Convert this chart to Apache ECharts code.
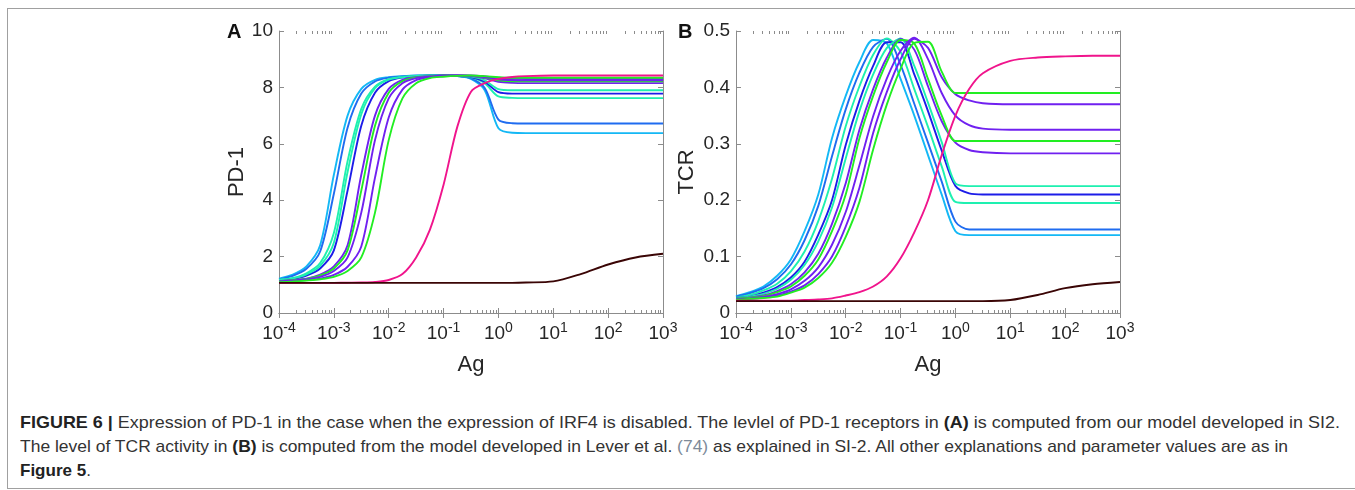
<!DOCTYPE html>
<html>
<head>
<meta charset="utf-8">
<script src="https://cdn.jsdelivr.net/npm/echarts@6/dist/echarts.min.js"></script>
<style>
html, body { margin: 0; padding: 0; background: #fff; }
body { width: 1355px; height: 490px; position: relative; overflow: hidden; font-family: "Liberation Sans", Arial, sans-serif; }
#frame { position: absolute; left: 7px; top: 8px; width: 1400px; height: 479px; border: 1px solid #a0a0a0; border-right: none; }
#chart { position: absolute; left: 0; top: 0; width: 1355px; height: 400px; }
.cap { position: absolute; left: 20px; font-size: 17px; line-height: 24px; color: #333; white-space: nowrap; transform-origin: 0 0; }
.cap b { color: #222; }
.ref { color: #7d8a99; }
</style>
</head>
<body>
<div id="frame"></div>
<div id="chart"></div>
<div class="cap" id="cap1" data-w="1320" style="top:411px"><b>FIGURE 6 |</b> Expression of PD-1 in the case when the expression of IRF4 is disabled. The levlel of PD-1 receptors in <b>(A)</b> is computed from our model developed in SI2.</div>
<div class="cap" id="cap2" data-w="1268" style="top:435px">The level of TCR activity in <b>(B)</b> is computed from the model developed in Lever et al. <span class="ref">(74)</span> as explained in SI-2. All other explanations and parameter values are as in</div>
<div class="cap" id="cap3" style="top:459px"><b>Figure 5</b>.</div>

<script>
// Ag sample points (log10 exponents)
const agExp = [-4, -3.75, -3.5, -3.25, -3, -2.75, -2.5, -2.25, -2, -1.75, -1.5, -1.25, -1, -0.75, -0.5, -0.25, 0, 0.25, 0.5, 1, 1.5, 2, 2.5, 3]

// panel A: PD-1
const pdLightBlue = [1.22, 1.36, 1.65, 2.4, 4.9, 7.0, 7.95, 8.27, 8.36, 8.40, 8.42, 8.42, 8.42, 8.40, 8.30, 7.90, 6.55, 6.39, 6.38, 6.38, 6.38, 6.38, 6.38, 6.38]
const pdBlue = [1.20, 1.32, 1.57, 2.18, 4.23, 6.57, 7.78, 8.21, 8.345, 8.39, 8.415, 8.42, 8.42, 8.40, 8.32, 7.98, 6.86, 6.73, 6.72, 6.72, 6.72, 6.72, 6.72, 6.72]
const pdAqua1 = [1.18, 1.24, 1.41, 1.77, 2.84, 5.38, 7.24, 8.03, 8.29, 8.37, 8.41, 8.42, 8.42, 8.41, 8.36, 8.15, 7.68, 7.63, 7.62, 7.62, 7.62, 7.62, 7.62, 7.62]
const pdDarkBlue = [1.16, 1.21, 1.33, 1.58, 2.22, 4.34, 6.64, 7.81, 8.22, 8.35, 8.39, 8.42, 8.42, 8.41, 8.37, 8.2, 7.83, 7.78, 7.78, 7.78, 7.78, 7.78, 7.78, 7.78]
const pdAqua2 = [1.17, 1.225, 1.37, 1.67, 2.49, 5.0, 7.05, 7.97, 8.275, 8.36, 8.41, 8.42, 8.42, 8.41, 8.38, 8.25, 7.94, 7.9, 7.9, 7.9, 7.9, 7.9, 7.9, 7.9]
const pdPurple1 = [1.13, 1.17, 1.22, 1.36, 1.65, 2.4, 4.9, 7.0, 7.95, 8.27, 8.36, 8.40, 8.42, 8.42, 8.40, 8.32, 8.2, 8.16, 8.15, 8.15, 8.15, 8.15, 8.15, 8.15]
const pdGreen1 = [1.125, 1.16, 1.21, 1.33, 1.58, 2.22, 4.34, 6.64, 7.81, 8.22, 8.35, 8.39, 8.42, 8.42, 8.41, 8.35, 8.25, 8.22, 8.22, 8.22, 8.22, 8.22, 8.22, 8.22]
const pdPurple2 = [1.115, 1.15, 1.195, 1.28, 1.49, 1.97, 3.56, 6.13, 7.61, 8.15, 8.33, 8.38, 8.42, 8.42, 8.41, 8.37, 8.29, 8.26, 8.25, 8.25, 8.25, 8.25, 8.25, 8.25]
const pdPurple3 = [1.10, 1.13, 1.17, 1.22, 1.35, 1.64, 2.36, 4.8, 6.93, 7.92, 8.26, 8.36, 8.40, 8.42, 8.42, 8.39, 8.34, 8.31, 8.30, 8.30, 8.30, 8.30, 8.30, 8.30]
const pdGreen2 = [1.09, 1.115, 1.15, 1.195, 1.28, 1.49, 1.97, 3.56, 6.13, 7.61, 8.15, 8.33, 8.38, 8.41, 8.42, 8.40, 8.36, 8.34, 8.34, 8.34, 8.34, 8.34, 8.34, 8.34]
const pdMagenta = [1.07, 1.07, 1.07, 1.07, 1.07, 1.075, 1.08, 1.1, 1.17, 1.38, 1.97, 2.95, 4.55, 6.6, 7.85, 8.15, 8.3, 8.37, 8.4, 8.42, 8.42, 8.42, 8.42, 8.42]
const pdBlack = [1.07, 1.07, 1.07, 1.07, 1.07, 1.07, 1.07, 1.07, 1.07, 1.07, 1.07, 1.07, 1.07, 1.07, 1.07, 1.07, 1.07, 1.07, 1.08, 1.12, 1.38, 1.72, 1.97, 2.1]

// panel B: TCR
const tcrLightBlue = [0.030, 0.037, 0.047, 0.066, 0.095, 0.145, 0.21, 0.31, 0.385, 0.445, 0.484, 0.478, 0.415, 0.35, 0.28, 0.21, 0.145, 0.138, 0.138, 0.138, 0.138, 0.138, 0.138, 0.138]
const tcrBlue = [0.029, 0.035, 0.044, 0.060, 0.086, 0.129, 0.19, 0.278, 0.361, 0.426, 0.472, 0.486, 0.44, 0.371, 0.302, 0.233, 0.162, 0.148, 0.148, 0.148, 0.148, 0.148, 0.148, 0.148]
const tcrAqua1 = [0.0275, 0.032, 0.040, 0.052, 0.074, 0.109, 0.163, 0.238, 0.331, 0.402, 0.458, 0.487, 0.463, 0.397, 0.33, 0.26, 0.197, 0.195, 0.195, 0.195, 0.195, 0.195, 0.195, 0.195]
const tcrDarkBlue = [0.027, 0.029, 0.036, 0.046, 0.063, 0.091, 0.139, 0.20, 0.298, 0.376, 0.438, 0.48, 0.48, 0.423, 0.358, 0.288, 0.225, 0.212, 0.21, 0.21, 0.21, 0.21, 0.21, 0.21]
const tcrAqua2 = [0.026, 0.029, 0.034, 0.043, 0.059, 0.085, 0.127, 0.187, 0.274, 0.358, 0.423, 0.47, 0.487, 0.438, 0.373, 0.303, 0.23, 0.225, 0.225, 0.225, 0.225, 0.225, 0.225, 0.225]
const tcrPurple1 = [0.025, 0.0275, 0.031, 0.039, 0.051, 0.072, 0.105, 0.158, 0.23, 0.325, 0.397, 0.453, 0.486, 0.467, 0.402, 0.34, 0.302, 0.289, 0.285, 0.283, 0.283, 0.283, 0.283, 0.283]
const tcrGreen1 = [0.025, 0.027, 0.030, 0.037, 0.047, 0.066, 0.095, 0.145, 0.21, 0.31, 0.385, 0.445, 0.484, 0.478, 0.415, 0.35, 0.305, 0.305, 0.305, 0.305, 0.305, 0.305, 0.305, 0.305]
const tcrPurple2 = [0.024, 0.026, 0.0285, 0.0335, 0.042, 0.057, 0.081, 0.121, 0.179, 0.262, 0.349, 0.416, 0.465, 0.488, 0.45, 0.39, 0.35, 0.333, 0.327, 0.325, 0.325, 0.325, 0.325, 0.325]
const tcrPurple3 = [0.023, 0.025, 0.0275, 0.031, 0.038, 0.049, 0.069, 0.10, 0.153, 0.222, 0.319, 0.392, 0.45, 0.486, 0.47, 0.418, 0.388, 0.377, 0.372, 0.37, 0.37, 0.37, 0.37, 0.37]
const tcrGreen2 = [0.023, 0.025, 0.0265, 0.029, 0.036, 0.045, 0.062, 0.089, 0.135, 0.197, 0.29, 0.37, 0.433, 0.479, 0.481, 0.428, 0.39, 0.39, 0.39, 0.39, 0.39, 0.39, 0.39, 0.39]
const tcrMagenta = [0.022, 0.022, 0.022, 0.022, 0.022, 0.023, 0.024, 0.026, 0.031, 0.037, 0.047, 0.065, 0.097, 0.143, 0.20, 0.28, 0.35, 0.397, 0.425, 0.447, 0.453, 0.455, 0.456, 0.456]
const tcrBlack = [0.021, 0.021, 0.021, 0.021, 0.021, 0.021, 0.021, 0.021, 0.021, 0.021, 0.021, 0.021, 0.021, 0.021, 0.021, 0.021, 0.021, 0.021, 0.021, 0.023, 0.032, 0.044, 0.051, 0.055]

const pdTicks = [0, 2, 4, 6, 8, 10]
const tcrTicks = [0, 0.1, 0.2, 0.3, 0.4, 0.5]

const colors = {
  lightBlue: '#14b8f5', blue: '#1f6cf0', aqua: '#1ef0b0', darkBlue: '#1c1ce8',
  purple: '#7020f0', green: '#22ee22', magenta: '#f0148c', black: '#3a0505'
}

const axisColor = '#8c8c8c'
const textColor = '#262626'
const ag = agExp.map(e => Math.pow(10, e))

const minorTicks = []
for (let e = -4; e < 3; e++) {
  for (let k = 2; k <= 9; k++) minorTicks.push(k * Math.pow(10, e))
}

function curve(vals, color, gi) {
  return {
    type: 'line',
    xAxisIndex: gi * 2,
    yAxisIndex: gi * 2,
    data: vals.map((v, i) => [ag[i], v]),
    showSymbol: false,
    smooth: 0.3,
    silent: true,
    lineStyle: { width: 1.9, color: color },
    itemStyle: { color: color },
    z: 3
  }
}

function minorTickSeries(gi) {
  return {
    type: 'custom',
    xAxisIndex: gi * 2,
    yAxisIndex: gi * 2,
    silent: true,
    data: minorTicks.map(v => [v, 0]),
    renderItem: (params, api) => {
      const x = Math.round(api.coord([api.value(0), 0])[0]) + 0.5
      const cs = params.coordSys
      const st = { stroke: axisColor, lineWidth: 1 }
      return {
        type: 'group',
        children: [
          { type: 'line', shape: { x1: x, y1: cs.y + cs.height, x2: x, y2: cs.y + cs.height - 3 }, style: st },
          { type: 'line', shape: { x1: x, y1: cs.y, x2: x, y2: cs.y + 3 }, style: st }
        ]
      }
    },
    z: 2
  }
}

function xAxes(gi) {
  const base = {
    type: 'log', logBase: 10, gridIndex: gi, min: 1e-4, max: 1e3,
    axisLine: { lineStyle: { color: axisColor, width: 1 } },
    axisTick: { inside: true, length: 5, lineStyle: { color: axisColor } },
    splitLine: { show: false }
  }
  return [
    Object.assign({}, base, {
      position: 'bottom',
      axisLabel: {
        formatter: v => '10{s|' + Math.round(Math.log10(v)) + '}',
        color: textColor, fontSize: 19, margin: 8,
        fontFamily: 'Liberation Sans',
        rich: { s: { fontSize: 14, color: textColor, padding: [0, 0, 11, 0], fontFamily: 'Liberation Sans' } }
      },
      name: 'Ag', nameLocation: 'middle', nameGap: 41,
      nameTextStyle: { fontSize: 22, color: textColor, fontFamily: 'Liberation Sans' }
    }),
    Object.assign({}, base, { position: 'top', axisLabel: { show: false } })
  ]
}

function yAxes(gi, ticks, name, gap, fmt) {
  const base = {
    type: 'value', gridIndex: gi, min: ticks[0], max: ticks[ticks.length - 1],
    interval: ticks[1] - ticks[0],
    axisLine: { show: true, lineStyle: { color: axisColor, width: 1 } },
    axisTick: { show: true, inside: true, length: 5, lineStyle: { color: axisColor } },
    splitLine: { show: false }
  }
  return [
    Object.assign({}, base, {
      position: 'left',
      axisLabel: { formatter: fmt, color: textColor, fontSize: 19, margin: 6, fontFamily: 'Liberation Sans' },
      name: name, nameLocation: 'middle', nameGap: gap, nameRotate: 90,
      nameTextStyle: { fontSize: 22, color: textColor, fontFamily: 'Liberation Sans' }
    }),
    Object.assign({}, base, { position: 'right', axisLabel: { show: false } })
  ]
}

const pdSets = [
  [pdLightBlue, colors.lightBlue], [pdBlue, colors.blue], [pdAqua1, colors.aqua], [pdDarkBlue, colors.darkBlue],
  [pdAqua2, colors.aqua], [pdPurple1, colors.purple], [pdGreen1, colors.green], [pdPurple2, colors.purple],
  [pdPurple3, colors.purple], [pdGreen2, colors.green], [pdMagenta, colors.magenta], [pdBlack, colors.black]
]
const tcrSets = [
  [tcrLightBlue, colors.lightBlue], [tcrBlue, colors.blue], [tcrAqua1, colors.aqua], [tcrDarkBlue, colors.darkBlue],
  [tcrAqua2, colors.aqua], [tcrPurple1, colors.purple], [tcrGreen1, colors.green], [tcrPurple2, colors.purple],
  [tcrPurple3, colors.purple], [tcrGreen2, colors.green], [tcrMagenta, colors.magenta], [tcrBlack, colors.black]
]

const chart = echarts.init(document.getElementById('chart'))
chart.setOption({
  animation: false,
  grid: [
    { left: 279, top: 31, width: 384, height: 282 },
    { left: 736, top: 31, width: 384, height: 282 }
  ],
  xAxis: [...xAxes(0), ...xAxes(1)],
  yAxis: [
    ...yAxes(0, pdTicks, 'PD-1', 31, v => String(v)),
    ...yAxes(1, tcrTicks, 'TCR', 38, v => (v === 0 ? '0' : v.toFixed(1)))
  ],
  graphic: [
    { type: 'text', left: 227, top: 22, style: { text: 'A', font: 'bold 20px "Liberation Sans"', fill: '#111' } },
    { type: 'text', left: 678, top: 22, style: { text: 'B', font: 'bold 20px "Liberation Sans"', fill: '#111' } }
  ],
  series: [
    ...pdSets.map(s => curve(s[0], s[1], 0)),
    ...tcrSets.map(s => curve(s[0], s[1], 1)),
    minorTickSeries(0),
    minorTickSeries(1)
  ]
})

// stretch caption lines to the widths they have in the figure
document.querySelectorAll('.cap[data-w]').forEach(el => {
  const w = el.getBoundingClientRect().width
  el.style.transform = 'scaleX(' + (Number(el.dataset.w) / w) + ')'
})
</script>
</body>
</html>
